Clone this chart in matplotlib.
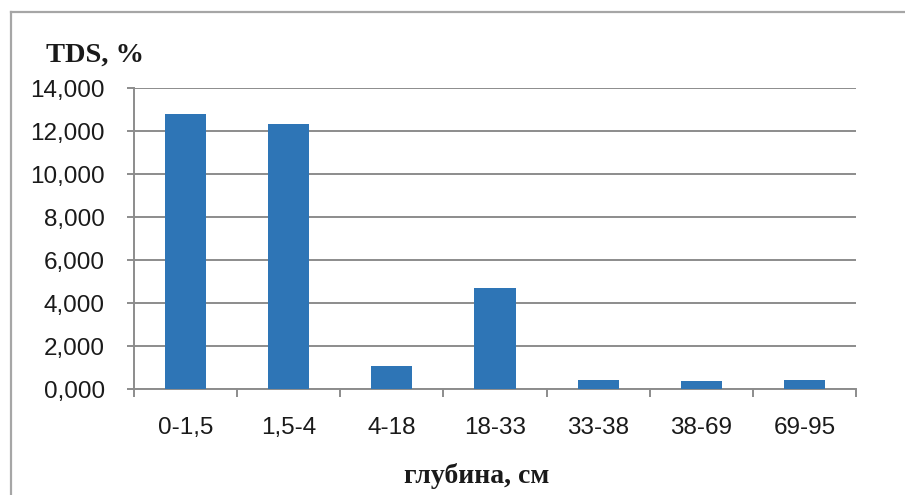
import matplotlib.pyplot as plt
from matplotlib.lines import Line2D
from matplotlib.ticker import FuncFormatter, MultipleLocator

# Data
depths = ['0-1,5', '1,5-4', '4-18', '18-33', '33-38', '38-69', '69-95']
tds = [12.80, 12.32, 1.05, 4.70, 0.42, 0.37, 0.43]   # shown as 0,000 (thousands)

bar_color = '#2e75b6'
grid_color = '#8c8c8c'

fig = plt.figure(figsize=(9.05, 4.95), dpi=100, facecolor='white')
ax = fig.add_axes([0.148, 0.214, 0.798, 0.608])

x = list(range(len(depths)))
ax.bar(x, [v * 1000 for v in tds], width=0.4, color=bar_color, zorder=3)

ax.set_xlim(-0.5, len(depths) - 0.5)
ax.set_ylim(0, 14000)
ax.yaxis.set_major_locator(MultipleLocator(2000))
# Excel number format: "14,000" = 14.000 with a decimal comma
ax.yaxis.set_major_formatter(FuncFormatter(lambda v, p: f"{v/1000:.3f}".replace('.', ',')))
ax.grid(axis='y', color=grid_color, linewidth=1.4, zorder=0)

# x ticks between categories, labels centred under bars
ax.set_xticks([i - 0.5 for i in range(len(depths) + 1)])
ax.set_xticklabels([])
ax.set_xticks(x, minor=True)
ax.set_xticklabels(depths, minor=True, fontsize=17.5, family='Liberation Sans', color='#1a1a1a')
ax.tick_params(axis='x', which='major', length=6, width=1.4, color=grid_color, direction='out')
ax.tick_params(axis='x', which='minor', length=0, pad=20)
ax.tick_params(axis='y', length=5, width=1.4, color=grid_color, pad=16,
               labelsize=17.5, labelcolor='#1a1a1a')
for lab in ax.get_yticklabels():
    lab.set_family('Liberation Sans')

for side in ['top', 'right']:
    ax.spines[side].set_visible(False)
for side in ['left', 'bottom']:
    ax.spines[side].set_color(grid_color)
    ax.spines[side].set_linewidth(1.4)

fig.text(46 / 905, 1 - 62 / 495, 'TDS, %', fontsize=20.5, fontweight='bold',
         family='Liberation Serif', color='#1a1a1a', ha='left', va='baseline')
fig.text(477 / 905, 1 - 483 / 495, 'глубина, см', fontsize=20, fontweight='bold',
         family='Liberation Serif', color='#1a1a1a', ha='center', va='baseline')

# outer chart frame (top and left edges visible)
fig.add_artist(Line2D([11 / 905, 11 / 905], [0, 1 - 12 / 495], transform=fig.transFigure,
                      color='#a6a6a6', linewidth=1.6))
fig.add_artist(Line2D([11 / 905, 1], [1 - 12 / 495, 1 - 12 / 495], transform=fig.transFigure,
                      color='#a6a6a6', linewidth=1.6))

fig.savefig('out.png', dpi=100, facecolor='white')
